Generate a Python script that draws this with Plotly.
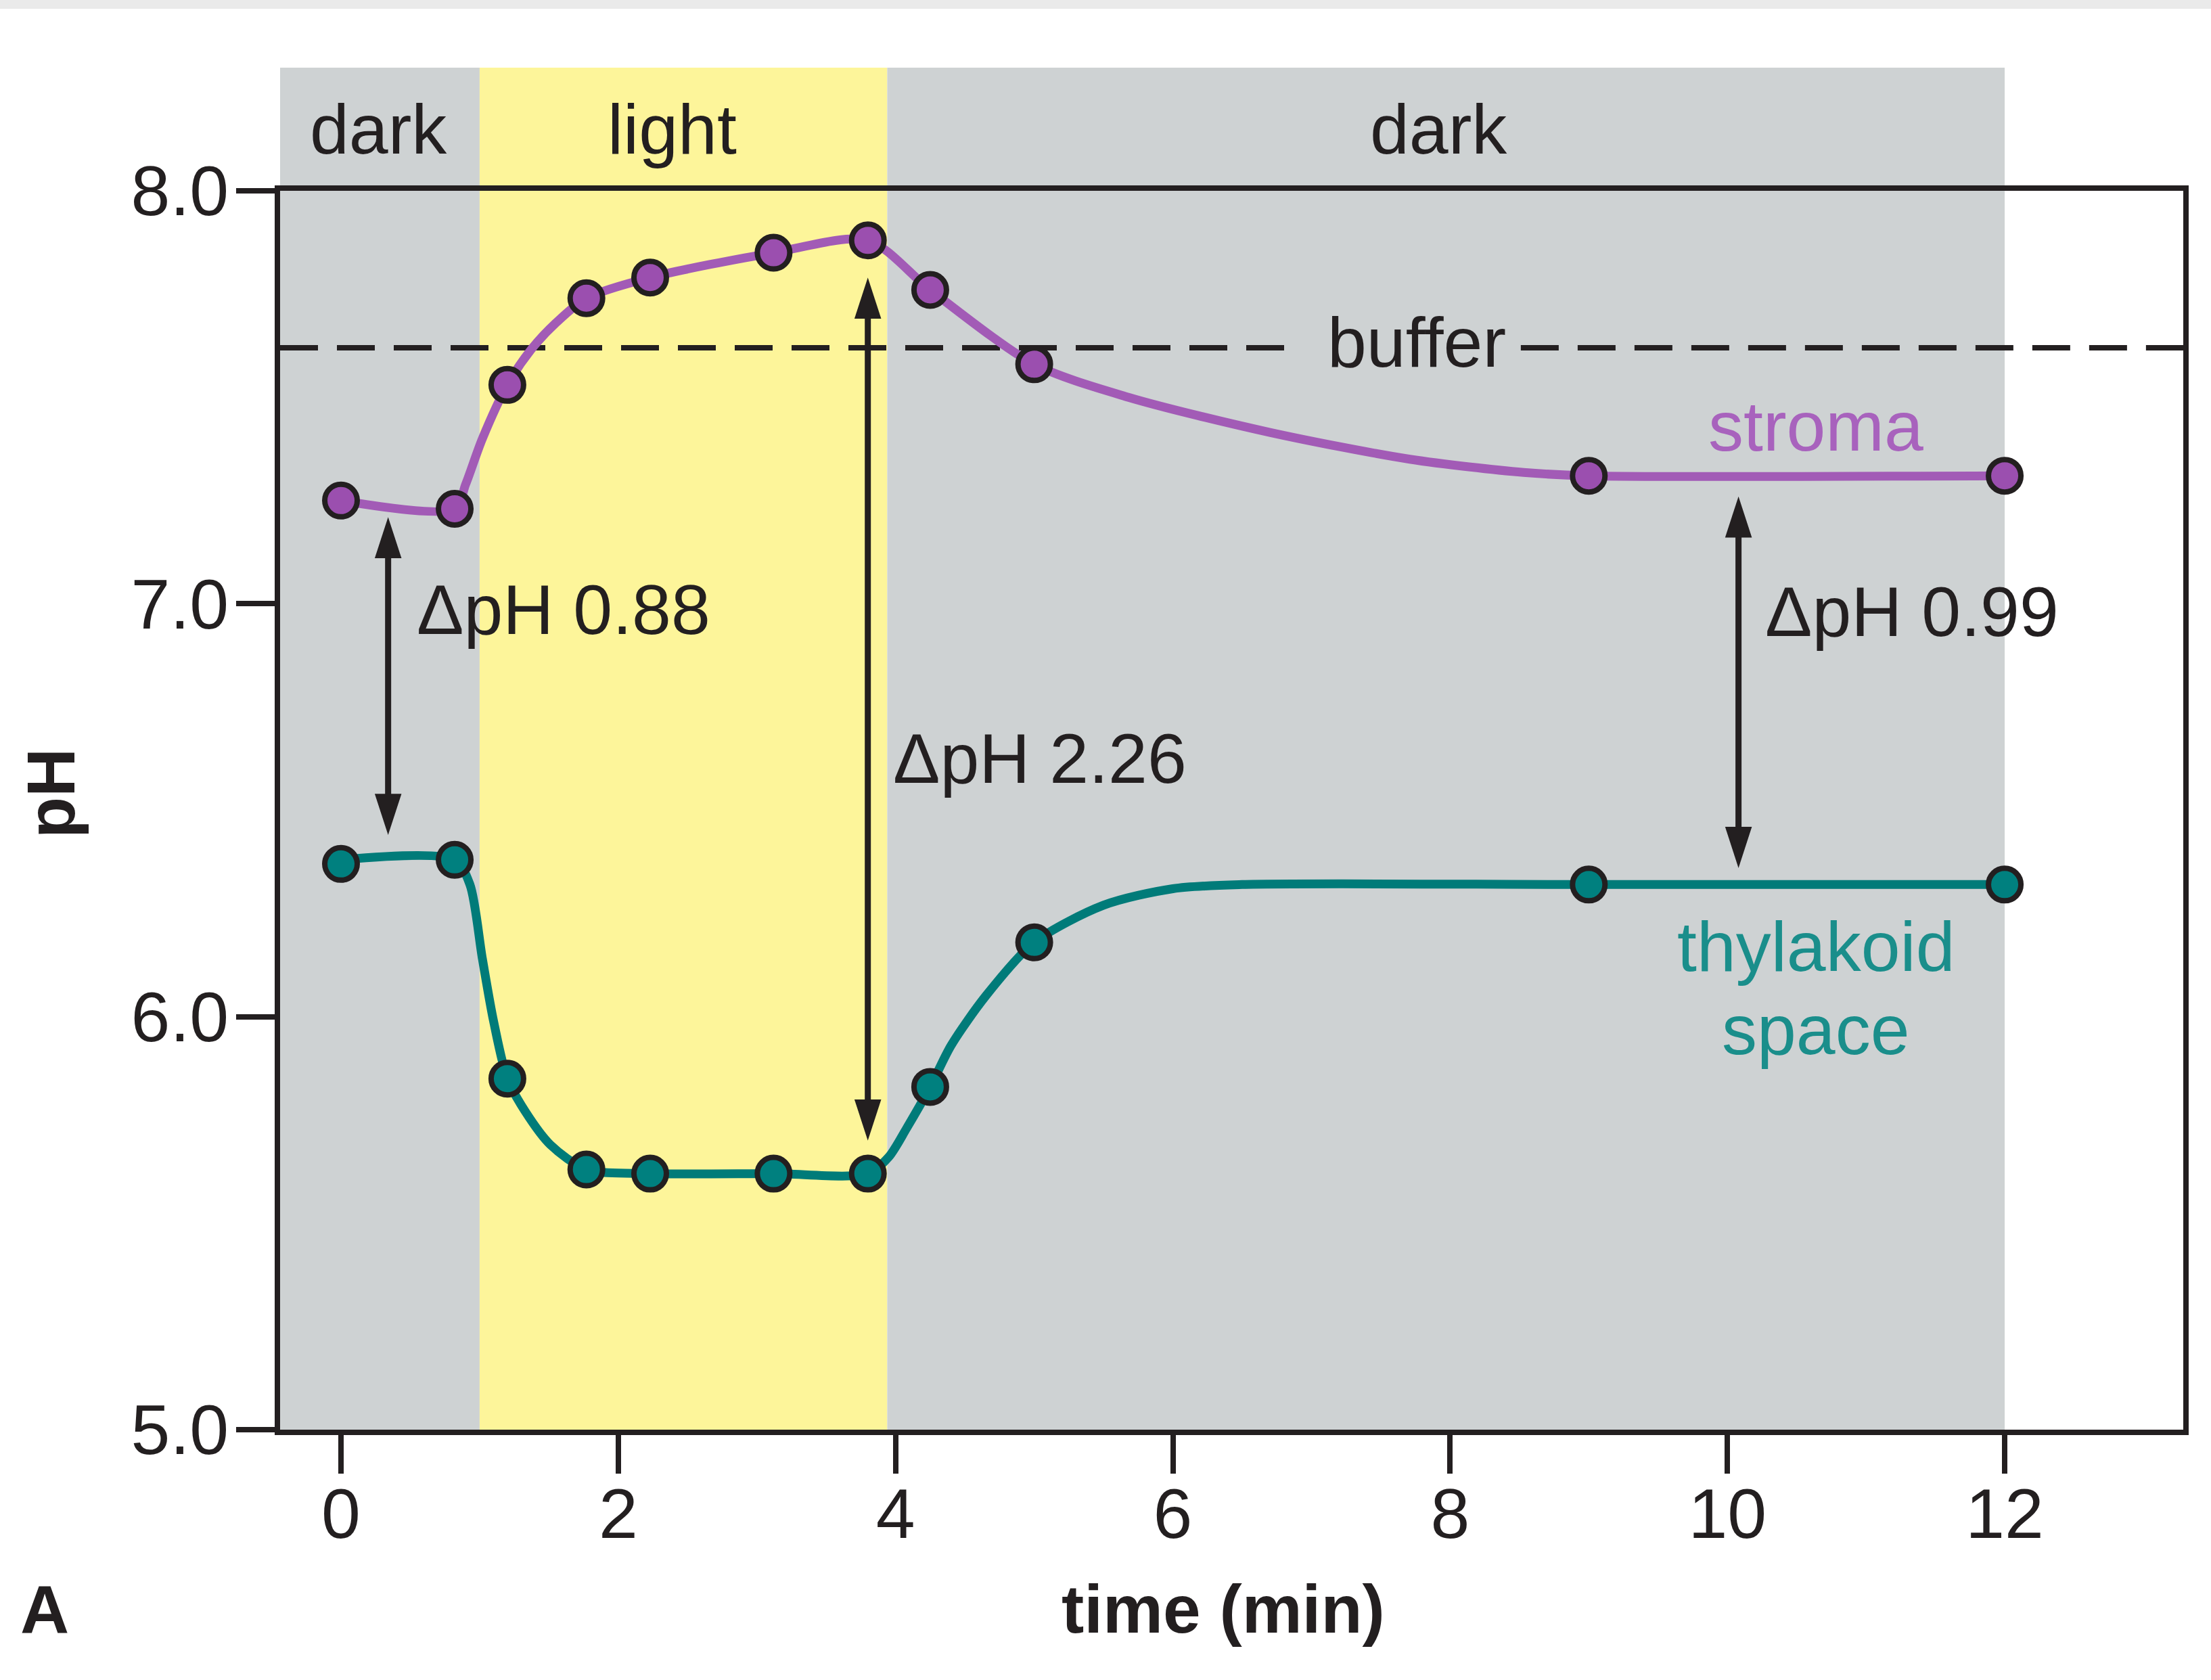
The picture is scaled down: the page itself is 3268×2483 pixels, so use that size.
import plotly.graph_objects as go

# ---- measurements: pH of stroma and thylakoid space over time ----
time_min = [0.0, 0.82, 1.2, 1.77, 2.23, 3.12, 3.8, 4.25, 5.0, 9.0, 12.0]
stroma_ph = [7.25, 7.23, 7.53, 7.74, 7.79, 7.85, 7.88, 7.76, 7.58, 7.31, 7.31]
thylakoid_ph = [6.37, 6.38, 5.85, 5.63, 5.62, 5.62, 5.62, 5.83, 6.18, 6.32, 6.32]

# smooth trend curves drawn through the measurements
stroma_curve_t = [0.0, 0.82, 0.9, 1.02, 1.2, 1.37, 1.55, 1.77, 2.23, 3.12, 3.8,
                  4.25, 5.0, 5.68, 6.7, 7.71, 8.53, 9.0, 12.0]
stroma_curve_ph = [7.25, 7.23, 7.29, 7.40, 7.53, 7.615, 7.68, 7.74, 7.79, 7.85, 7.88,
                   7.76, 7.58, 7.50, 7.415, 7.35, 7.318, 7.31, 7.31]
thylakoid_curve_t = [0.0, 0.82, 0.93, 1.02, 1.1, 1.2, 1.33, 1.51, 1.77, 2.23,
                     3.12, 3.8, 3.95, 4.08, 4.25, 4.4, 4.65, 5.0, 5.5, 6.0, 6.5, 9.0, 12.0]
thylakoid_curve_ph = [6.38, 6.38, 6.32, 6.14, 5.99, 5.85, 5.77, 5.69, 5.63, 5.62,
                      5.62, 5.62, 5.66, 5.73, 5.83, 5.93, 6.05, 6.18, 6.27, 6.31, 6.32, 6.32, 6.32]

buffer_ph = 7.62

# illumination periods (min)
period_names = ["dark", "light", "dark"]
period_end = [1.0, 3.94, 12.0]

# pH gradients across the thylakoid membrane
dph_time = [0.34, 3.80, 10.08]
dph_values = [0.88, 2.26, 0.99]

x_ticks = [0, 2, 4, 6, 8, 10, 12]
y_ticks = [5.0, 6.0, 7.0, 8.0]

# ---- styling ----
INK = "#231F20"
GRAY = "#CED2D3"
YELLOW = "#FDF59A"
PURPLE = "#A25BB6"
PURPLE_FILL = "#9B4FAF"
TEAL = "#007B79"
TEAL_FILL = "#00807F"
PURPLE_TEXT = "#A862BD"
TEAL_TEXT = "#1A8E8B"
FONT = "Liberation Sans, Arial, Helvetica, sans-serif"

X_RANGE = [-0.4392, 13.288]
Y_RANGE = [5.0, 8.0]

fig = go.Figure()

# trend curves
fig.add_trace(go.Scatter(x=stroma_curve_t, y=stroma_curve_ph, mode="lines",
                         line=dict(color=PURPLE, width=13, shape="spline", smoothing=0.8),
                         hoverinfo="skip"))
fig.add_trace(go.Scatter(x=thylakoid_curve_t, y=thylakoid_curve_ph, mode="lines",
                         line=dict(color=TEAL, width=13, shape="spline", smoothing=0.8),
                         hoverinfo="skip"))

# measured points
fig.add_trace(go.Scatter(x=time_min, y=stroma_ph, mode="markers", name="stroma",
                         marker=dict(size=48, color=PURPLE_FILL, line=dict(color=INK, width=8))))
fig.add_trace(go.Scatter(x=time_min, y=thylakoid_ph, mode="markers", name="thylakoid space",
                         marker=dict(size=48, color=TEAL_FILL, line=dict(color=INK, width=8))))

# double-headed gradient arrows
arrow_top = [7.21, 7.79, 7.26]
arrow_bottom = [6.44, 5.70, 6.36]
for t, top, bot in zip(dph_time, arrow_top, arrow_bottom):
    fig.add_trace(go.Scatter(x=[t, t], y=[top - 0.05, bot + 0.05], mode="lines",
                             line=dict(color=INK, width=9), hoverinfo="skip"))
    fig.add_trace(go.Scatter(x=[t, t], y=[top, bot], mode="markers", hoverinfo="skip",
                             marker=dict(symbol="arrow", angle=[0, 180], size=64,
                                         color=INK, line=dict(width=0))))

shapes = []
# light / dark background bands, extending above the plot
band_top = 1.0994
starts = [X_RANGE[0]] + period_end[:-1]
for name, x0, x1 in zip(period_names, starts, period_end):
    shapes.append(dict(type="rect", xref="x", yref="paper", x0=x0, x1=x1, y0=0, y1=band_top,
                       fillcolor=YELLOW if name == "light" else GRAY, line=dict(width=0),
                       layer="below"))
# buffer pH, dashed and broken around its label
for x0, x1 in [(X_RANGE[0], 6.886), (8.51, X_RANGE[1])]:
    shapes.append(dict(type="line", xref="x", yref="y", x0=x0, x1=x1, y0=buffer_ph, y1=buffer_ph,
                       line=dict(color=INK, width=8, dash="56px,28px"), layer="below"))
# thin grey strip along the top edge of the page
shapes.append(dict(type="rect", xref="paper", yref="paper", x0=-0.1472, x1=1.0146,
                   y0=1.1469, y1=1.16, fillcolor="#EAEAEA", line=dict(width=0), layer="below"))

annotations = []
band_label_x = [0.27, 2.39, 7.92]
for name, x in zip(period_names, band_label_x):
    annotations.append(dict(text=name, x=x, y=1.0497, xref="x", yref="paper",
                            showarrow=False, xanchor="center", yanchor="middle",
                            font=dict(size=104, color=INK)))
annotations.append(dict(text="buffer", x=7.76, y=7.633, xref="x", yref="y", showarrow=False,
                        xanchor="center", yanchor="middle", font=dict(size=104, color=INK)))
annotations.append(dict(text="stroma", x=10.64, y=7.43, xref="x", yref="y", showarrow=False,
                        xanchor="center", yanchor="middle", font=dict(size=104, color=PURPLE_TEXT)))
annotations.append(dict(text="thylakoid", x=10.64, y=6.17, xref="x", yref="y", showarrow=False,
                        xanchor="center", yanchor="middle", font=dict(size=104, color=TEAL_TEXT)))
annotations.append(dict(text="space", x=10.64, y=5.968, xref="x", yref="y", showarrow=False,
                        xanchor="center", yanchor="middle", font=dict(size=104, color=TEAL_TEXT)))
dph_label_pos = [(0.537, 6.986), (3.972, 6.625), (10.262, 6.981)]
for v, (x, y) in zip(dph_values, dph_label_pos):
    annotations.append(dict(text=f"\u0394pH {v:.2f}", x=x, y=y, xref="x", yref="y",
                            showarrow=False, xanchor="left", yanchor="middle",
                            font=dict(size=104, color=INK)))
# axis titles and panel letter
annotations.append(dict(text="<b>time (min)</b>", x=0.4956, y=-0.1447, xref="paper", yref="paper",
                        showarrow=False, xanchor="center", yanchor="middle",
                        font=dict(size=100, color=INK)))
annotations.append(dict(text="<b>pH</b>", x=-0.1205, y=0.5134, xref="paper", yref="paper",
                        showarrow=False, xanchor="center", yanchor="middle", textangle=-90,
                        font=dict(size=100, color=INK)))
annotations.append(dict(text="<b>A</b>", x=-0.1237, y=-0.1453, xref="paper", yref="paper",
                        showarrow=False, xanchor="center", yanchor="middle",
                        font=dict(size=100, color=INK)))

axis_common = dict(showline=True, linewidth=8, linecolor=INK, mirror=True,
                   ticks="outside", ticklen=57, tickwidth=8, tickcolor=INK,
                   showgrid=False, zeroline=False, tickfont=dict(size=104, color=INK))

fig.update_layout(
    width=3268, height=2483,
    margin=dict(l=414, r=41, t=282, b=370),
    paper_bgcolor="white", plot_bgcolor="white",
    showlegend=False,
    font=dict(family=FONT, color=INK, size=104),
    xaxis=dict(range=X_RANGE, tickvals=x_ticks, ticklabelstandoff=-30, **axis_common),
    yaxis=dict(range=Y_RANGE, tickvals=y_ticks, tickformat=".1f", ticklabelstandoff=-10,
               **axis_common),
    shapes=shapes,
    annotations=annotations,
)

fig.write_html("out.html")
